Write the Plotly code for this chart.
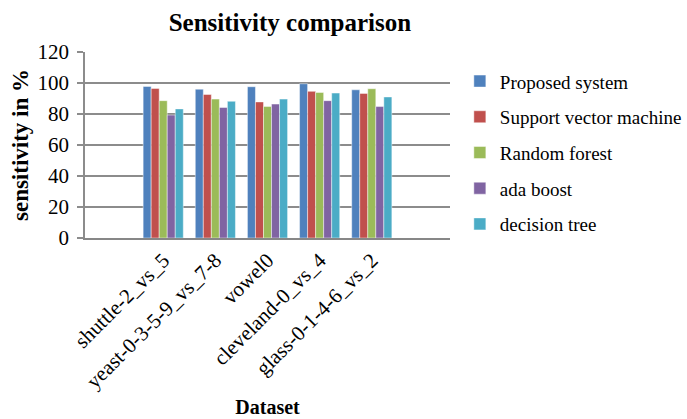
import plotly.graph_objects as go

categories = ["", "shuttle-2_vs_5", "yeast-0-3-5-9_vs_7-8", "vowel0",
              "cleveland-0_vs_4", "glass-0-1-4-6_vs_2", " "]
labels = categories[1:6]
series_names = ["Proposed system", "Support vector machine", "Random forest",
                "ada boost", "decision tree"]
proposed = [97.8, 96.0, 97.6, 99.5, 95.6]
svm = [96.5, 92.6, 87.8, 94.6, 93.3]
rf = [88.6, 89.6, 84.8, 93.9, 96.3]
ada = [79.3, 84.2, 86.4, 88.6, 84.8]
dt = [83.3, 88.2, 89.6, 93.5, 91.0]
colors = ["#4F81BD", "#C0504D", "#9BBB59", "#8064A2", "#4BACC6"]
y_ticks = [0, 20, 40, 60, 80, 100, 120]

values = [proposed, svm, rf, ada, dt]
font = "Liberation Serif, Times New Roman, serif"

fig = go.Figure()
for name, vals, col in zip(series_names, values, colors):
    fig.add_trace(go.Bar(
        x=labels, y=vals, name=name, legendgroup=name,
        marker=dict(color=col, line=dict(color="rgba(255,255,255,0.45)", width=1)),
    ))

fig.update_layout(
    width=687, height=419,
    margin=dict(l=85, r=237, t=52, b=181, autoexpand=False),
    paper_bgcolor="white", plot_bgcolor="white",
    font=dict(family=font, color="black"),
    title=dict(text="<b>Sensitivity comparison</b>", x=0.422, xanchor="center",
               y=0.948, yanchor="middle", font=dict(size=25, family=font)),
    barmode="group", bargap=0.23, bargroupgap=0,
    showlegend=True,
    legend=dict(x=1.027, xanchor="left", y=0.945, yanchor="top",
                font=dict(size=19, family=font), tracegroupgap=8,
                bgcolor="rgba(0,0,0,0)", itemwidth=30),
)
fig.update_xaxes(
    type="category", categoryorder="array", categoryarray=categories,
    range=[-0.5, 6.5], tickmode="array", tickvals=labels, ticktext=labels,
    tickangle=-45, tickfont=dict(size=21, family=font),
    showline=True, linecolor="#878787", linewidth=1.5, ticks="",
    showgrid=False,
    title=dict(text="<b>Dataset</b>", font=dict(size=20, family=font), standoff=8),
)
fig.update_yaxes(
    range=[0, 120], tickvals=y_ticks, tickfont=dict(size=21, family=font),
    showgrid=True, gridcolor="#8c8c8c", gridwidth=1.5,
    showline=True, linecolor="#8c8c8c", linewidth=1.5,
    ticks="outside", ticklen=6, tickcolor="#8c8c8c", tickwidth=1.5,
    ticklabelstandoff=4,
    zeroline=False,
    title=dict(text="<b>sensitivity in %</b>", font=dict(size=23, family=font), standoff=2),
)

fig.write_html("out.html")
